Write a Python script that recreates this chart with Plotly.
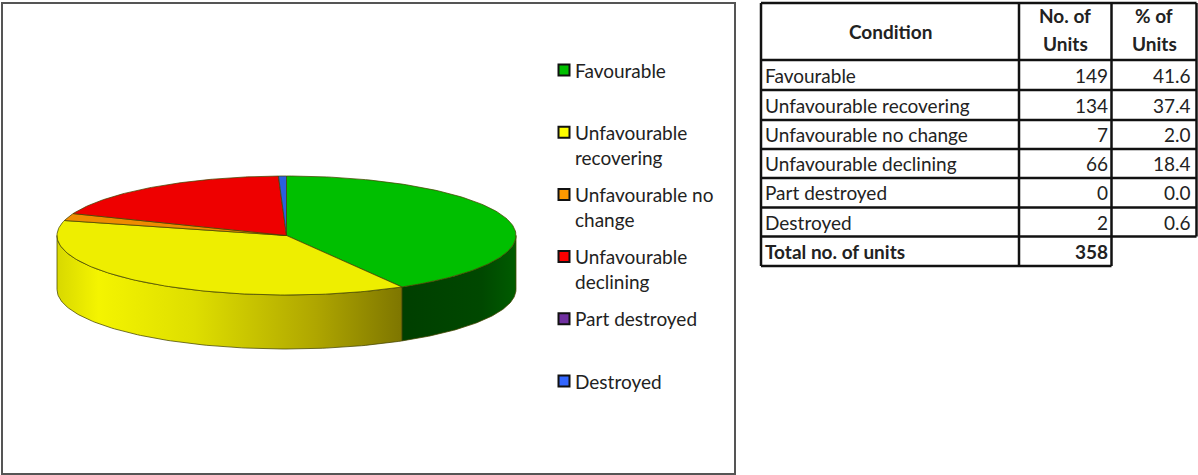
import numpy as np
import plotly.graph_objects as go

CONDITIONS = ['Favourable', 'Unfavourable recovering', 'Unfavourable no change',
              'Unfavourable declining', 'Part destroyed', 'Destroyed']
UNITS = [149, 134, 7, 66, 0, 2]
PERCENTS = ['41.6', '37.4', '2.0', '18.4', '0.0', '0.6']
TOTAL_LABEL = 'Total no. of units'
TOTAL_UNITS = 358
HEADERS = ['Condition', 'No. of<br>Units', '% of<br>Units']
LEGEND_LABELS = ['Favourable', 'Unfavourable<br>recovering', 'Unfavourable no<br>change',
                 'Unfavourable<br>declining', 'Part destroyed', 'Destroyed']

TOP_COLORS = ['#00BF00', '#EEEE00', '#EE8C00', '#EE0000', '#6A2C96', '#2A5FE0']
KEY_COLORS = ['#00C000', '#FFFF00', '#FF9900', '#FF0000', '#7030A0', '#3366FF']
# the walls that face the viewer get a horizontal shading
WALL_SHADES = {
    0: [[0, '#003F00'], [0.7, '#004800'], [1, '#005C00']],
    1: [[0, '#D8D800'], [0.12, '#F4F400'], [0.4, '#DEDE00'], [0.75, '#AFA600'], [1, '#7E7600']],
}

FONT = 'Lato'
TEXT_COLOR = '#222222'
TEXT_SIZE = 19

# pie geometry, in page pixels
CX, CY, RX, RY, DEPTH = 286.5, 235.5, 229.5, 59.5, 54
EDGE = 'rgba(70,70,0,0.75)'

# table grid, in page pixels
COL_X = [761, 1019, 1111.5, 1196.5]
ROW_Y = [3, 60, 90, 120, 149, 178, 207.5, 236.5, 266]

fig = go.Figure()


def rim(a0, a1, n=120):
    # angles are clockwise from 12 o'clock
    t = np.radians(np.linspace(a0, a1, n))
    return CX + RX * np.sin(t), CY - RY * np.cos(t)


# cumulative slice angles from the unit counts
angles = np.concatenate([[0], np.cumsum(UNITS) / sum(UNITS) * 360])

# front walls first, the top face goes over them
for i, name in enumerate(CONDITIONS):
    a0, a1 = max(angles[i], 90), min(angles[i + 1], 270)
    if a1 <= a0:
        continue
    x, y = rim(a0, a1)
    fig.add_trace(go.Scatter(
        x=np.concatenate([x, x[::-1], x[:1]]),
        y=np.concatenate([y, y[::-1] + DEPTH, y[:1]]),
        mode='lines', fill='toself',
        fillgradient=dict(type='horizontal', colorscale=WALL_SHADES[i],
                          start=x.min(), stop=x.max()),
        line=dict(color=EDGE, width=1),
        hoverinfo='skip', showlegend=False,
    ))

for i, name in enumerate(CONDITIONS):
    if UNITS[i] == 0:
        continue
    x, y = rim(angles[i], angles[i + 1])
    fig.add_trace(go.Scatter(
        x=np.concatenate([[CX], x, [CX]]),
        y=np.concatenate([[CY], y, [CY]]),
        mode='lines', fill='toself', fillcolor=TOP_COLORS[i],
        line=dict(color=EDGE, width=1),
        name=name, hoverinfo='name', showlegend=False,
    ))


def add_text(x, y, text, anchor='left', bold=False, gap=25):
    # one annotation per line so the line gap can follow the picture
    lines = text.split('<br>')
    for k, line in enumerate(lines):
        fig.add_annotation(
            x=x, y=y + k * gap, text=f'<b>{line}</b>' if bold else line,
            xref='x', yref='y', showarrow=False, xanchor=anchor, yanchor='middle',
            font=dict(family=FONT, size=TEXT_SIZE, color=TEXT_COLOR),
        )


# hand made legend, the keys sit at an even spacing whatever the wrapping
key_y = [70 + 62.2 * i for i in range(len(LEGEND_LABELS))]
fig.add_trace(go.Scatter(
    x=[564] * len(key_y), y=key_y, mode='markers',
    marker=dict(symbol='square', size=11, color=KEY_COLORS, line=dict(color='#111111', width=2)),
    hoverinfo='skip', showlegend=False,
))
for y, label in zip(key_y, LEGEND_LABELS):
    add_text(573, y, label)

# table text
add_text((COL_X[0] + COL_X[1]) / 2, 31, HEADERS[0], anchor='center', bold=True)
add_text((COL_X[1] + COL_X[2]) / 2, 15, HEADERS[1], anchor='center', bold=True, gap=28)
add_text((COL_X[2] + COL_X[3]) / 2, 15, HEADERS[2], anchor='center', bold=True, gap=28)
for i, name in enumerate(CONDITIONS):
    y = (ROW_Y[i + 1] + ROW_Y[i + 2]) / 2
    add_text(COL_X[0] + 2, y, name)
    add_text(COL_X[2] - 2, y, str(UNITS[i]), anchor='right')
    add_text(COL_X[3] - 4, y, PERCENTS[i], anchor='right')
y = (ROW_Y[-2] + ROW_Y[-1]) / 2
add_text(COL_X[0] + 2, y, TOTAL_LABEL, bold=True)
add_text(COL_X[2] - 2, y, str(TOTAL_UNITS), anchor='right', bold=True)

# table grid: the total row has no third cell
grid = dict(type='line', xref='x', yref='y', line=dict(color='#111111', width=2.5))
for k, y in enumerate(ROW_Y):
    fig.add_shape(x0=COL_X[0], x1=COL_X[2] if k == len(ROW_Y) - 1 else COL_X[3], y0=y, y1=y, **grid)
for k, x in enumerate(COL_X):
    fig.add_shape(x0=x, x1=x, y0=ROW_Y[0], y1=ROW_Y[-2] if k == 3 else ROW_Y[-1], **grid)

# frame round the chart
fig.add_shape(type='rect', xref='x', yref='y', x0=2, x1=735, y0=3, y1=474,
              line=dict(color='#555555', width=2))

fig.update_layout(
    width=1198, height=475,
    margin=dict(t=0, b=0, l=0, r=0),
    paper_bgcolor='white', plot_bgcolor='white',
    showlegend=False,
    xaxis=dict(range=[0, 1198], visible=False, fixedrange=True),
    yaxis=dict(range=[475, 0], visible=False, fixedrange=True),
)

fig.write_html('out.html', config=dict(displayModeBar=False),
               post_script="document.body.style.margin='0';")
